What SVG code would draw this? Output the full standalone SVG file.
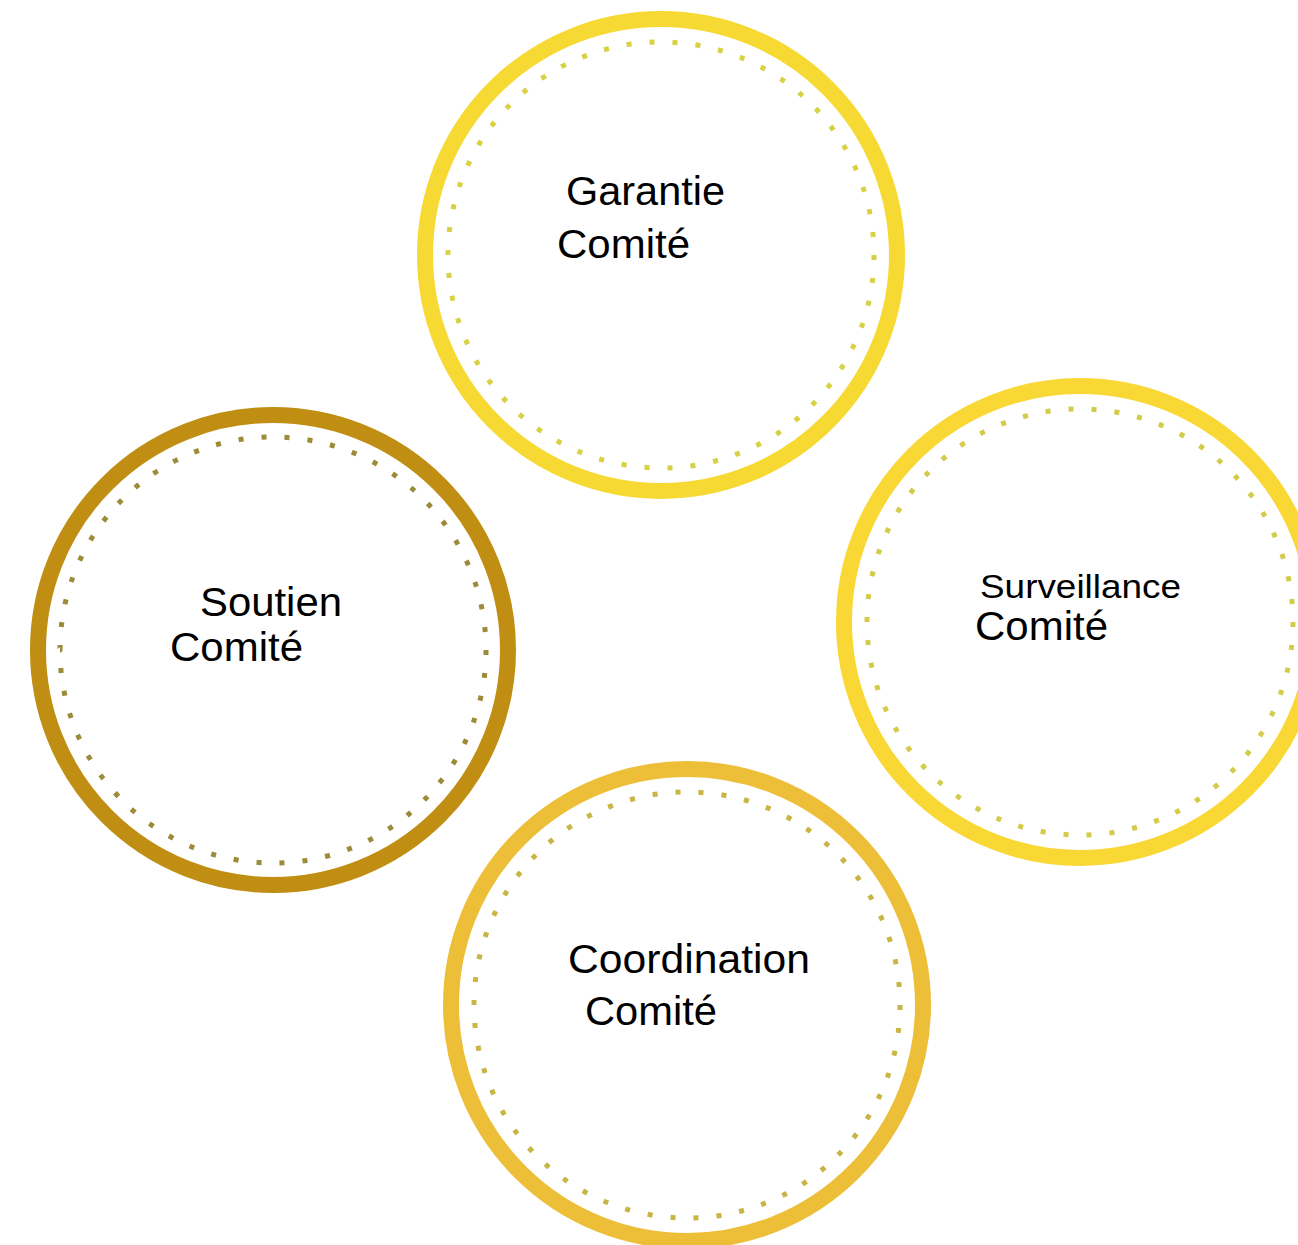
<svg xmlns="http://www.w3.org/2000/svg" width="1298" height="1245" viewBox="0 0 1298 1245">
<style>
.ring{fill:none;stroke-width:16}
.dots{fill:none;stroke-width:5;stroke-dasharray:5 18;stroke-linecap:butt}
.lbl{font-family:"Liberation Sans",Arial,sans-serif;font-size:40px;fill:#000}
.sm{font-size:34px}
</style>
<rect width="1298" height="1245" fill="#fff"/>
<g id="connectors"></g>
<g id="garantie">
<circle class="ring" cx="661" cy="255" r="236" stroke="#F6DA33"/>
<circle class="dots" cx="661" cy="255" r="213" pathLength="1334" stroke="#D6D243"/>
<text class="lbl" x="566" y="205" textLength="159" lengthAdjust="spacingAndGlyphs">Garantie</text>
<text class="lbl" x="557" y="258" textLength="133" lengthAdjust="spacingAndGlyphs">Comité</text>
</g>
<g id="soutien">
<circle class="ring" cx="273" cy="650" r="235" stroke="#BF8E12"/>
<circle class="dots" cx="273" cy="650" r="213" pathLength="1334" stroke="#9C8C3A"/>
<text class="lbl" x="200" y="616" textLength="142" lengthAdjust="spacingAndGlyphs">Soutien</text>
<text class="lbl" x="170" y="661" textLength="133" lengthAdjust="spacingAndGlyphs">Comité</text>
</g>
<g id="surveillance">
<circle class="ring" cx="1080" cy="622" r="236" stroke="#F9D836"/>
<circle class="dots" cx="1080" cy="622" r="213" pathLength="1334" stroke="#D3CC4A"/>
<text class="lbl sm" x="980" y="598" textLength="201" lengthAdjust="spacingAndGlyphs">Surveillance</text>
<text class="lbl" x="975" y="640" textLength="133" lengthAdjust="spacingAndGlyphs">Comité</text>
</g>
<g id="coordination">
<circle class="ring" cx="687" cy="1005" r="236" stroke="#EDBF38"/>
<circle class="dots" cx="687" cy="1005" r="213" pathLength="1334" stroke="#C8B544"/>
<text class="lbl" x="568" y="973" textLength="242" lengthAdjust="spacingAndGlyphs">Coordination</text>
<text class="lbl" x="585" y="1025" textLength="132" lengthAdjust="spacingAndGlyphs">Comité</text>
</g>
</svg>
